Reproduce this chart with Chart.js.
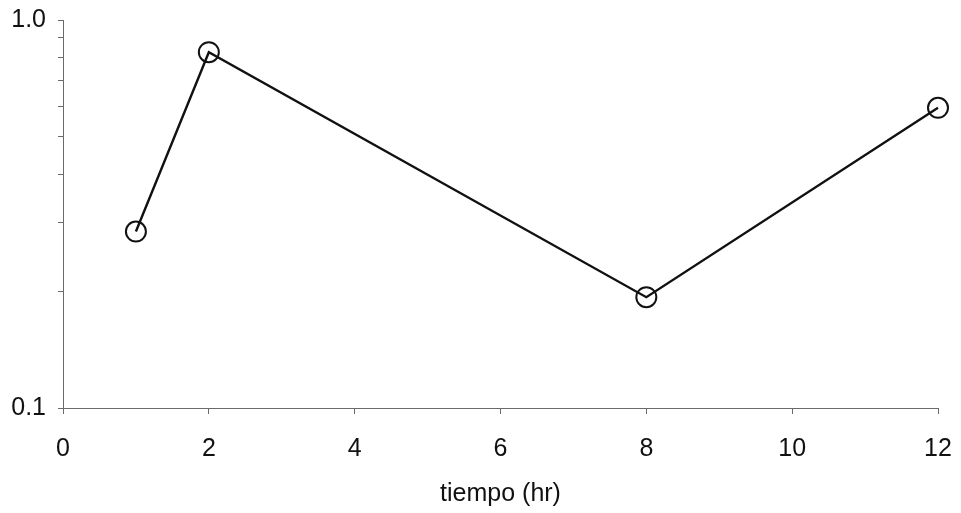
<!DOCTYPE html>
<html>
<head>
<meta charset="utf-8">
<script src="https://cdn.jsdelivr.net/npm/chart.js@4/dist/chart.umd.min.js"></script>
<style>
  html, body { margin: 0; padding: 0; background: #fff; }
  #wrap { width: 961px; height: 513px; }
</style>
</head>
<body>
<div id="wrap"><canvas id="chart" width="961" height="513"></canvas></div>
<script>
const tiempos = [1, 2, 8, 12];
const valores = [0.285, 0.826, 0.193, 0.594];
const xTicks = [0, 2, 4, 6, 8, 10, 12];
const yLabels = [0.1, 1.0];

const ink = '#111';
const axisGray = '#6a6a6a';
const font = { family: '"Liberation Sans", Arial, sans-serif', size: 25 };

new Chart(document.getElementById('chart'), {
    type: 'scatter',
    data: {
        datasets: [{
            data: tiempos.map((t, i) => ({ x: t, y: valores[i] })),
            showLine: true,
            clip: false,
            borderColor: ink,
            borderWidth: 2.4,
            pointRadius: 10,
            pointHoverRadius: 10,
            pointBorderWidth: 2,
            pointBorderColor: ink,
            pointBackgroundColor: 'rgba(0,0,0,0)',
        }],
    },
    options: {
        responsive: false,
        animation: false,
        layout: { padding: { top: 20, right: 23, left: 0, bottom: 0 } },
        plugins: { legend: { display: false }, tooltip: { enabled: false } },
        scales: {
            x: {
                type: 'linear',
                min: 0,
                max: 12,
                afterBuildTicks: (s) => { s.ticks = xTicks.map((v) => ({ value: v })); },
                afterFit: (s) => {
                    s.height = 105;
                    s.paddingLeft = 0;
                    s.paddingRight = 0;
                },
                border: { color: axisGray, width: 1 },
                grid: { drawOnChartArea: false, tickLength: 6, color: axisGray },
                ticks: { color: ink, font: font, padding: 20 },
                title: { display: true, text: 'tiempo (hr)', color: ink, font: font, padding: { top: 8 } },
            },
            y: {
                type: 'logarithmic',
                min: 0.1,
                max: 1,
                afterBuildTicks: (s) => {
                    const t = [];
                    for (let v = 1; v <= 10; v++) t.push({ value: v / 10 });
                    s.ticks = t;
                },
                afterFit: (s) => {
                    s.width = 63;
                    s.paddingTop = 0;
                    s.paddingBottom = 0;
                },
                border: { color: axisGray, width: 1 },
                grid: { drawOnChartArea: false, tickLength: 5, color: axisGray },
                ticks: {
                    color: ink,
                    font: font,
                    padding: 12,
                    callback: (v) => {
                        const hit = yLabels.find((l) => Math.abs(l - v) < 1e-9);
                        return hit !== undefined ? hit.toFixed(1) : '';
                    },
                },
            },
        },
    },
});
</script>
</body>
</html>
